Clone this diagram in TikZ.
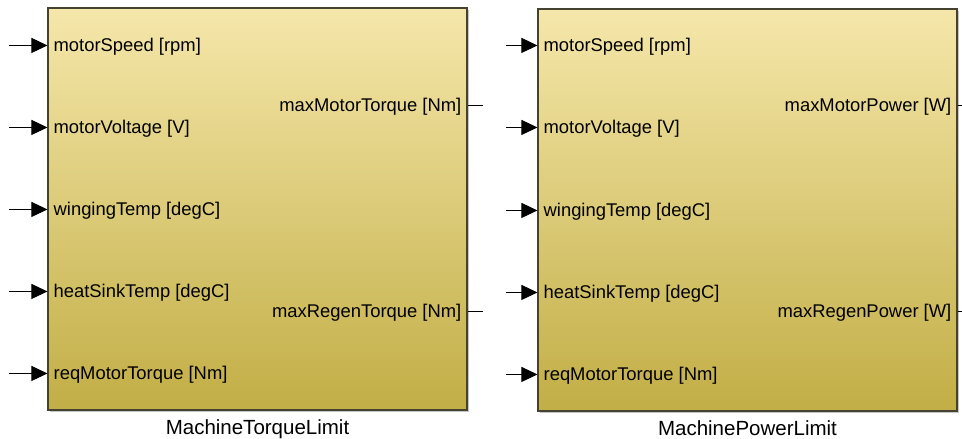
\documentclass[tikz,border=0pt]{standalone}
\usepackage{fontspec}
\setmainfont{Liberation Sans}
\usepackage{tikz}
\usetikzlibrary{positioning,arrows.meta,calc,shadows}
\definecolor{blkTop}{RGB}{245,231,170}
\definecolor{blkBot}{RGB}{194,174,70}
\definecolor{blkEdge}{RGB}{70,66,50}

\begin{document}
\begin{tikzpicture}[
    x=1pt, y=1pt,
    font=\fontsize{18.4}{22}\selectfont,
    block/.style={draw=blkEdge, line width=1.1pt, minimum width=419pt, minimum height=402pt,
                  inner sep=0pt, top color=blkTop, bottom color=blkBot,
                  drop shadow={shadow xshift=1.5pt, shadow yshift=-1.5pt, fill=black!45}},
    inport/.style={anchor=west, inner xsep=6pt, inner ysep=0pt, yshift=-1pt},
    outport/.style={anchor=east, inner xsep=6pt, inner ysep=0pt, yshift=-1pt},
    caption/.style={inner sep=0pt, font=\fontsize{20.5}{24}\selectfont},
    arr/.style={-{Triangle[length=16pt, width=15pt]}, line width=0.8pt},
    sig/.style={line width=0.6pt}
]
\useasboundingbox (0,0) rectangle (962,-439);

% blocks
\node[block] (torque) at (257.5,-209) {};
\node[block] (power) at (747.5,-210) {};
\node[caption, below=9pt of torque] (torqueName) {MachineTorqueLimit};
\node[caption, below=9pt of power] (powerName) {MachinePowerLimit};

% MachineTorqueLimit ports
\coordinate (t-in1) at ($(torque.north west)+(0,-38)$);
\coordinate (t-in2) at ($(torque.north west)+(0,-120)$);
\coordinate (t-in3) at ($(torque.north west)+(0,-202)$);
\coordinate (t-in4) at ($(torque.north west)+(0,-284)$);
\coordinate (t-in5) at ($(torque.north west)+(0,-366)$);
\coordinate (t-out1) at ($(torque.north east)+(0,-98)$);
\coordinate (t-out2) at ($(torque.north east)+(0,-304)$);
\node[inport] (t-lab1) at (t-in1) {motorSpeed [rpm]};
\node[inport] (t-lab2) at (t-in2) {motorVoltage [V]};
\node[inport] (t-lab3) at (t-in3) {wingingTemp [degC]};
\node[inport] (t-lab4) at (t-in4) {heatSinkTemp [degC]};
\node[inport] (t-lab5) at (t-in5) {reqMotorTorque [Nm]};
\node[outport] (t-olab1) at (t-out1) {maxMotorTorque [Nm]};
\node[outport] (t-olab2) at (t-out2) {maxRegenTorque [Nm]};
\coordinate[left=38pt of t-in1] (t-src1);
\coordinate[left=38pt of t-in2] (t-src2);
\coordinate[left=38pt of t-in3] (t-src3);
\coordinate[left=38pt of t-in4] (t-src4);
\coordinate[left=38pt of t-in5] (t-src5);
\coordinate[right=15pt of t-out1] (t-dst1);
\coordinate[right=15pt of t-out2] (t-dst2);
\draw[arr] (t-src1) -- (t-in1);
\draw[arr] (t-src2) -- (t-in2);
\draw[arr] (t-src3) -- (t-in3);
\draw[arr] (t-src4) -- (t-in4);
\draw[arr] (t-src5) -- (t-in5);
\draw[sig] (t-out1) -- (t-dst1);
\draw[sig] (t-out2) -- (t-dst2);

% MachinePowerLimit ports
\coordinate (p-in1) at ($(power.north west)+(0,-37)$);
\coordinate (p-in2) at ($(power.north west)+(0,-119)$);
\coordinate (p-in3) at ($(power.north west)+(0,-202)$);
\coordinate (p-in4) at ($(power.north west)+(0,-284)$);
\coordinate (p-in5) at ($(power.north west)+(0,-366)$);
\coordinate (p-out1) at ($(power.north east)+(0,-97)$);
\coordinate (p-out2) at ($(power.north east)+(0,-303)$);
\node[inport] (p-lab1) at (p-in1) {motorSpeed [rpm]};
\node[inport] (p-lab2) at (p-in2) {motorVoltage [V]};
\node[inport] (p-lab3) at (p-in3) {wingingTemp [degC]};
\node[inport] (p-lab4) at (p-in4) {heatSinkTemp [degC]};
\node[inport] (p-lab5) at (p-in5) {reqMotorTorque [Nm]};
\node[outport] (p-olab1) at (p-out1) {maxMotorPower [W]};
\node[outport] (p-olab2) at (p-out2) {maxRegenPower [W]};
\coordinate[left=31pt of p-in1] (p-src1);
\coordinate[left=31pt of p-in2] (p-src2);
\coordinate[left=31pt of p-in3] (p-src3);
\coordinate[left=31pt of p-in4] (p-src4);
\coordinate[left=31pt of p-in5] (p-src5);
\coordinate[right=8pt of p-out1] (p-dst1);
\coordinate[right=8pt of p-out2] (p-dst2);
\draw[arr] (p-src1) -- (p-in1);
\draw[arr] (p-src2) -- (p-in2);
\draw[arr] (p-src3) -- (p-in3);
\draw[arr] (p-src4) -- (p-in4);
\draw[arr] (p-src5) -- (p-in5);
\draw[sig] (p-out1) -- (p-dst1);
\draw[sig] (p-out2) -- (p-dst2);
\end{tikzpicture}
\end{document}
